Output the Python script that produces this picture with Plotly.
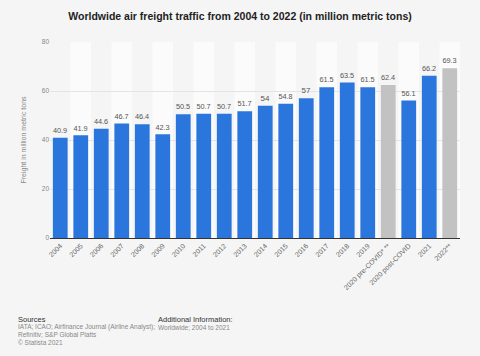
import plotly.graph_objects as go

categories = ["2004", "2005", "2006", "2007", "2008", "2009", "2010", "2011", "2012",
              "2013", "2014", "2015", "2016", "2017", "2018", "2019",
              "2020 pre-COVID* **", "2020 post-COVID", "2021", "2022**"]
values = [40.9, 41.9, 44.6, 46.7, 46.4, 42.3, 50.5, 50.7, 50.7, 51.7, 54, 54.8, 57,
          61.5, 63.5, 61.5, 62.4, 56.1, 66.2, 69.3]
labels = ["40.9", "41.9", "44.6", "46.7", "46.4", "42.3", "50.5", "50.7", "50.7", "51.7",
          "54", "54.8", "57", "61.5", "63.5", "61.5", "62.4", "56.1", "66.2", "69.3"]
forecast = {"2020 pre-COVID* **", "2022**"}
y_ticks = [0, 20, 40, 60, 80]

colors = ["#c2c2c2" if c in forecast else "#2a76dd" for c in categories]

fig = go.Figure()
fig.add_trace(go.Bar(
    x=categories, y=values, marker=dict(color=colors, line=dict(width=0)),
    text=labels, textposition="outside", cliponaxis=False,
    textfont=dict(size=8, color="#555555", family="Liberation Sans"),
    width=0.72, hoverinfo="skip",
))

shapes = []
for i in range(len(categories)):
    if i % 2 == 1:
        shapes.append(dict(type="rect", xref="x", yref="y", x0=i - 0.5, x1=i + 0.5,
                           y0=0, y1=80, fillcolor="#fbfbfb", line=dict(width=0),
                           layer="below"))
fig.update_layout(shapes=shapes)

L, R, T, B = 50, 20, 42, 118
H = 356 - T - B
W = 480 - L - R

fig.update_layout(
    width=480, height=356,
    margin=dict(l=L, r=R, t=T, b=B, autoexpand=False),
    paper_bgcolor="#f5f5f5", plot_bgcolor="#f5f5f5",
    showlegend=False,
    title=dict(text="<b>Worldwide air freight traffic from 2004 to 2022 (in million metric tons)</b>",
               x=0.5, xanchor="center", xref="container", y=1 - 16 / 356, yref="container", yanchor="middle",
               font=dict(size=10.5, color="#222222", family="Liberation Sans")),
)
fig.update_xaxes(
    tickangle=-45, tickfont=dict(size=7, color="#666666", family="Liberation Sans"),
    showgrid=False, showline=True, linecolor="#333333", linewidth=1.2, automargin=False,
    ticks="", range=[-0.5, len(categories) - 0.5],
)
fig.update_yaxes(
    range=[0, 80], tickvals=y_ticks, tickfont=dict(size=6.5, color="#888888", family="Liberation Sans"),
    gridcolor="#e4e4e4", gridwidth=1, zeroline=False, showline=False, automargin=False,
    title=dict(text="Freight in million metric tons", font=dict(size=7, color="#888888", family="Liberation Sans"),
               standoff=14),
)

footer = [
    (16, 319, "Sources", "#333333", 7.5),
    (16, 327, "IATA; ICAO; Airfinance Journal (Airline Analyst);", "#888888", 6.5),
    (16, 334.5, "Refinitiv; S&P Global Platts", "#888888", 6.5),
    (16, 342, "© Statista 2021", "#888888", 6.5),
    (156, 319, "Additional Information:", "#333333", 7.5),
    (156, 327, "Worldwide; 2004 to 2021", "#888888", 6.5),
]
for x, y, t, c, s in footer:
    fig.add_annotation(text=t, xref="paper", yref="paper",
                       x=(x - L) / W, y=1 - (y - T) / H, xanchor="left", yanchor="middle",
                       showarrow=False, font=dict(size=s, color=c, family="Liberation Sans"))

fig.write_html("out.html", config={"displayModeBar": False},
               post_script="document.body.style.margin='0px';document.body.style.background='#f5f5f5';")
